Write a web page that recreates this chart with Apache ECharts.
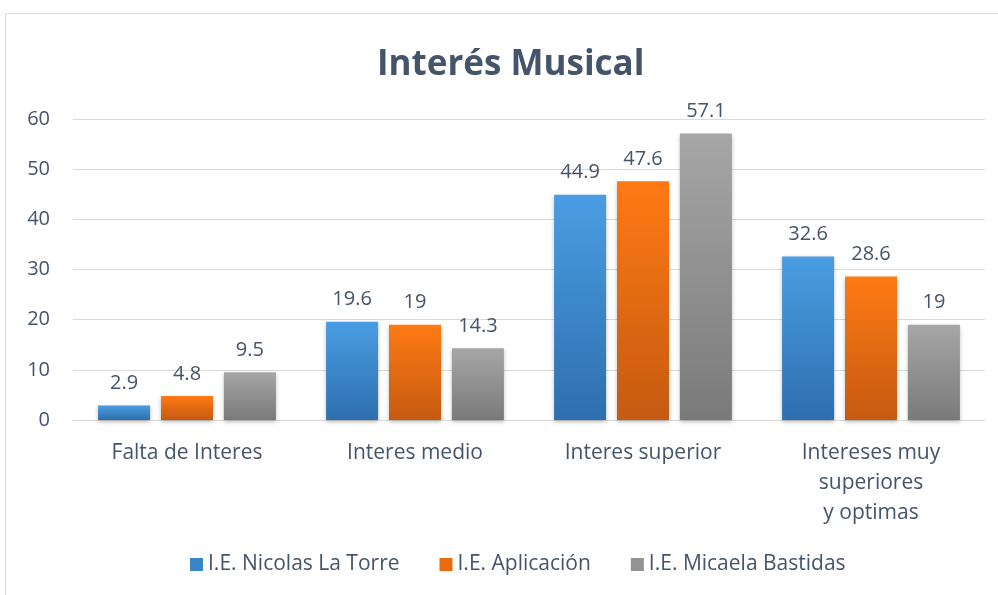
<!DOCTYPE html>
<html>
<head>
<meta charset="utf-8">
<script src="https://cdn.jsdelivr.net/npm/echarts@6/dist/echarts.min.js"></script>
<style>
  html, body { margin: 0; padding: 0; background: #fff; }
  #chart { width: 998px; height: 595px; }
</style>
</head>
<body>
<div id="chart"></div>
<script>
  const categories = ['Falta de Interes', 'Interes medio', 'Interes superior', 'Intereses muy\nsuperiores\ny optimas']
  const seriesNames = ['I.E. Nicolas La Torre', 'I.E. Aplicación', 'I.E. Micaela Bastidas']
  const nicolasLaTorre = [2.9, 19.6, 44.9, 32.6]
  const aplicacion = [4.8, 19, 47.6, 28.6]
  const micaelaBastidas = [9.5, 14.3, 57.1, 19]

  const textColor = '#44546a'
  const font = '"Open Sans", "Noto Sans", sans-serif'

  function grad (top, bottom) {
    return new echarts.graphic.LinearGradient(0, 0, 0, 1, [
      { offset: 0, color: top },
      { offset: 1, color: bottom }
    ])
  }

  const styles = [
    { c: grad('#4a9de3', '#2e6fae'), legend: '#3a84c8' },
    { c: grad('#ff7a14', '#c55a11'), legend: '#e86b12' },
    { c: grad('#a6a6a6', '#7a7a7a'), legend: '#939393' }
  ]
  const values = [nicolasLaTorre, aplicacion, micaelaBastidas]

  let myChart = echarts.init(document.getElementById('chart'))
  const option = {
    textStyle: { fontFamily: font, color: textColor },
    title: {
      text: 'Interés Musical',
      left: 372,
      top: 43,
      textStyle: { fontSize: 35, fontWeight: 'bold', color: textColor, fontFamily: font }
    },
    graphic: [{
      type: 'rect',
      shape: { x: 5.5, y: 13.5, width: 1000, height: 600 },
      style: { fill: 'none', stroke: '#d9d9d9', lineWidth: 1 },
      silent: true
    }],
    legend: {
      bottom: 15,
      left: 185,
      itemWidth: 13,
      itemHeight: 13,
      itemGap: 40,
      textStyle: { fontSize: 21, color: textColor, fontFamily: font },
      data: seriesNames.map(function (n, i) {
        return { name: n, icon: 'rect', itemStyle: { color: styles[i].legend } }
      })
    },
    grid: { left: 73, right: 13, top: 119, bottom: 175 },
    xAxis: {
      type: 'category',
      data: categories,
      axisLine: { lineStyle: { color: '#d9d9d9' } },
      axisTick: { show: false },
      axisLabel: { fontSize: 21, color: textColor, margin: 18, lineHeight: 30, fontFamily: font }
    },
    yAxis: {
      type: 'value',
      min: 0,
      max: 60,
      interval: 10,
      axisLine: { show: false },
      axisTick: { show: false },
      axisLabel: { fontSize: 20, color: textColor, margin: 23, fontFamily: font },
      splitLine: { lineStyle: { color: '#d9d9d9' } }
    },
    series: values.map(function (v, i) {
      return {
        name: seriesNames[i],
        type: 'bar',
        data: v,
        barGap: '21%',
        barCategoryGap: '22%',
        itemStyle: {
          color: styles[i].c,
          shadowColor: 'rgba(0,0,0,0.25)',
          shadowBlur: 4,
          shadowOffsetY: 2
        },
        label: {
          show: true,
          position: 'top',
          distance: 12,
          fontSize: 20,
          color: textColor,
          fontFamily: font
        }
      }
    })
  }
  myChart.setOption(option)
</script>
</body>
</html>
